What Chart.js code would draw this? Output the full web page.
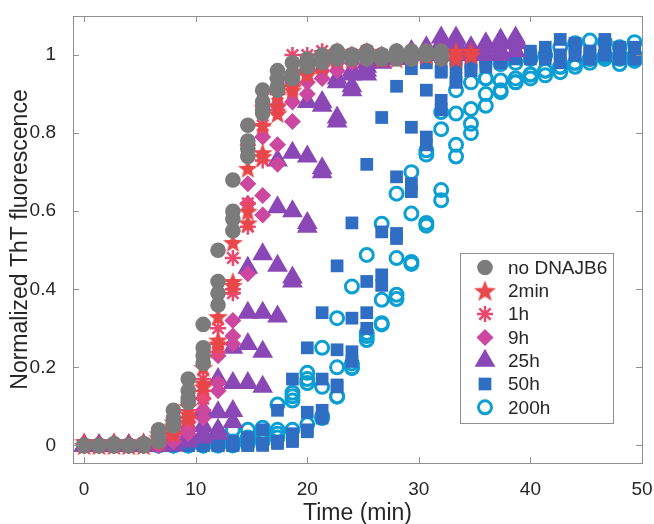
<!DOCTYPE html>
<html>
<head>
<meta charset="utf-8">
<script src="https://cdn.jsdelivr.net/npm/chart.js@4.4.0/dist/chart.umd.min.js"></script>
<style>
  html, body { margin: 0; padding: 0; background: #fff; }
  #wrap { width: 654px; height: 524px; }
</style>
</head>
<body>
<div id="wrap"><canvas id="thtChart" width="654" height="524"></canvas></div>
<script>
// sample times (min), one reading every 80 s
const times = [0, 1.33, 2.67, 4, 5.33, 6.67, 8, 9.33, 10.67, 12, 13.33, 14.67, 16, 17.33, 18.67,
  20, 21.33, 22.67, 24, 25.33, 26.67, 28, 29.33, 30.67, 32, 33.33, 34.67, 36, 37.33, 38.67,
  40, 41.33, 42.67, 44, 45.33, 46.67, 48, 49.33];

const xTicks = [0, 10, 20, 30, 40, 50];
const yTicks = [0, 0.2, 0.4, 0.6, 0.8, 1];

// replicates per condition, values aligned with times
const noDnajb6 = [
  [0, 0, 0.005, 0, 0.005, 0.04, 0.09, 0.17, 0.31, 0.50, 0.68, 0.82, 0.91, 0.96, 0.98, 0.99, 1.0, 1.01, 1.0, 1.01, 1.0, 1.01, 1.0, 1.0, 1.01],
  [0, 0, 0, 0, 0, 0.03, 0.07, 0.14, 0.25, 0.42, 0.60, 0.78, 0.88, 0.94, 0.95, 0.98, 0.99, 1.0, 1.0, 1.0, 0.99, 1.0, 1.01, 1.0, 1.0],
  [0, 0, 0, 0, 0, 0.02, 0.06, 0.12, 0.23, 0.39, 0.58, 0.76, 0.86, 0.92, 0.95, 0.97, 0.99, 1.0, 0.99, 1.0, 1.0, 0.99, 1.0, 1.01, 0.99],
  [0, 0, 0, 0, 0, 0.01, 0.05, 0.11, 0.21, 0.36, 0.55, 0.74, 0.85, 0.91, 0.94, 0.97, 0.98, 0.99, 1.0, 0.99, 1.0, 1.0, 0.99, 1.0, 1.0]
];
const min2 = [
  [0.01, 0, 0.01, 0, 0.01, 0.03, 0.06, 0.10, 0.20, 0.33, 0.52, 0.71, 0.82, 0.90, 0.95, 0.98, 1.0, 1.01, 1.0, 1.01, 1.0, 1.0, 1.01, 1.0, 1.0, 1.01, 1.0],
  [0, 0.005, 0, 0.005, 0, 0.02, 0.05, 0.08, 0.16, 0.27, 0.42, 0.60, 0.75, 0.87, 0.92, 0.96, 0.98, 0.99, 1.0, 1.0, 0.99, 1.0, 1.0, 1.0, 1.01, 1.0, 1.0],
  [0, 0, 0, 0, 0, 0.01, 0.03, 0.07, 0.15, 0.26, 0.41, 0.57, 0.74, 0.85, 0.91, 0.95, 0.97, 0.99, 0.99, 1.0, 1.0, 0.99, 1.0, 1.0, 1.0, 0.99, 1.01]
];
const h1 = [
  [0, 0, 0, 0, 0.005, 0.02, 0.05, 0.09, 0.17, 0.30, 0.48, 0.77, 0.87, 0.94, 1.0, 1.0, 1.01, 1.0, 1.0, 1.01, 1.0, 1.0, 1.0, 1.01, 1.0],
  [0, 0, 0, 0, 0, 0.01, 0.04, 0.07, 0.14, 0.26, 0.40, 0.62, 0.82, 0.90, 0.95, 0.98, 0.99, 1.0, 1.0, 1.0, 0.99, 1.0, 1.0, 1.0, 1.0],
  [0, 0, 0, 0, 0, 0.01, 0.03, 0.06, 0.12, 0.24, 0.39, 0.56, 0.73, 0.86, 0.92, 0.96, 0.98, 0.99, 1.0, 0.99, 1.0, 1.0, 0.99, 1.0, 1.0]
];
const h9 = [
  [0, 0, 0, 0, 0, 0.005, 0.02, 0.06, 0.12, 0.23, 0.32, 0.67, 0.79, 0.87, 0.93, 0.96, 0.98, 0.99, 1.0, 1.0, 1.0, 1.01, 1.0, 1.0, 1.0],
  [0, 0, 0, 0, 0, 0, 0.01, 0.04, 0.09, 0.16, 0.28, 0.62, 0.64, 0.77, 0.88, 0.93, 0.96, 0.98, 0.99, 1.0, 1.0, 1.0, 1.0, 1.0, 1.0],
  [0, 0, 0, 0, 0, 0, 0.01, 0.03, 0.07, 0.14, 0.26, 0.44, 0.59, 0.72, 0.83, 0.90, 0.94, 0.96, 0.98, 0.99, 1.0, 1.0, 1.0, 1.0, 0.99]
];
const h25 = [
  [0, 0, 0, 0, 0, 0.01, 0.02, 0.05, 0.09, 0.17, 0.25, 0.455, 0.49, 0.73, 0.75, 0.88, 0.88, 0.94, 0.96, 0.98, 0.99, 1.0, 1.01, 1.0, 1.045, 1.045, 1.0, 1.03, 1.04, 1.045],
  [0, 0, 0, 0, 0, 0, 0.01, 0.03, 0.05, 0.085, 0.16, 0.34, 0.34, 0.61, 0.60, 0.74, 0.87, 0.93, 0.95, 0.97, 0.99, 1.0, 1.0, 1.02, 1.03, 1.04, 1.02, 1.0, 1.03, 1.01],
  [0, 0, 0, 0, 0, 0, 0.005, 0.02, 0.03, 0.04, 0.088, 0.26, 0.24, 0.46, 0.42, 0.57, 0.70, 0.84, 0.91, 0.95, 0.98, 0.99, 1.0, 1.01, 1.0, 1.02, 1.01, 1.02, 1.0, 1.04],
  [0, 0, 0, 0, 0, 0, 0, 0.01, 0.02, 0.03, 0.06, 0.16, 0.15, 0.33, 0.43, 0.56, 0.71, 0.83, 0.92, 0.96, 0.99, 1.0, 1.01, 1.0, 1.02, 1.03, 1.0, 1.02, 1.01, 1.03]
];
const h50 = [
  [0, 0, 0, 0, 0, 0, 0, 0, 0.005, 0.01, 0.01, 0.02, 0.04, 0.09, 0.17, 0.25, 0.34, 0.46, 0.57, 0.72, 0.84, 0.92, 0.965, 0.98, 0.96, 0.99, 1.0, 1.01, 1.02, 1.03, 1.01, 1.0, 1.04, 1.02, 1.01, 1.04, 1.02, 1.01],
  [0, 0, 0, 0, 0, 0, 0, 0, 0, 0, 0, 0.005, 0.005, 0.01, 0.03, 0.085, 0.17, 0.245, 0.326, 0.42, 0.547, 0.688, 0.815, 0.91, 0.956, 0.97, 0.98, 0.99, 1.0, 1.01, 1.0, 1.02, 1.0, 1.03, 1.0, 1.01, 1.0, 1.02],
  [0, 0, 0, 0, 0, 0, 0, 0, 0, 0, 0, 0, 0.005, 0.01, 0.015, 0.04, 0.09, 0.155, 0.24, 0.34, 0.437, 0.543, 0.67, 0.79, 0.884, 0.94, 0.96, 0.98, 0.99, 1.0, 0.99, 1.0, 0.98, 1.0, 0.99, 1.0, 0.99, 0.99],
  [0, 0, 0, 0, 0, 0, 0, 0, 0, 0, 0, 0, 0, 0.005, 0.01, 0.035, 0.07, 0.15, 0.215, 0.30, 0.41, 0.53, 0.65, 0.77, 0.86, 0.93, 0.96, 0.97, 0.98, 0.99, 1.0, 0.99, 1.0, 1.0, 1.01, 1.0, 1.0, 1.0]
];
const h200 = [
  [0, 0, 0, 0, 0, 0, 0, 0.005, 0.01, 0.02, 0.04, 0.04, 0.045, 0.105, 0.135, 0.186, 0.25, 0.326, 0.407, 0.488, 0.568, 0.645, 0.70, 0.756, 0.854, 0.91, 0.93, 0.94, 0.977, 0.98, 0.99, 1.0, 1.02, 1.03, 1.037, 1.033, 1.02, 1.033],
  [0, 0, 0, 0, 0, 0, 0, 0, 0, 0.005, 0.01, 0.02, 0.03, 0.04, 0.126, 0.17, 0.15, 0.20, 0.198, 0.288, 0.373, 0.48, 0.594, 0.745, 0.81, 0.85, 0.862, 0.90, 0.935, 0.93, 0.94, 0.948, 0.956, 0.97, 0.98, 0.994, 0.977, 0.99],
  [0, 0, 0, 0, 0, 0, 0, 0, 0, 0, 0.005, 0.01, 0.02, 0.03, 0.115, 0.16, 0.075, 0.126, 0.20, 0.28, 0.313, 0.386, 0.47, 0.57, 0.654, 0.77, 0.824, 0.94, 0.905, 0.93, 0.95, 0.96, 0.97, 0.98, 0.99, 1.0, 0.99, 1.0],
  [0, 0, 0, 0, 0, 0, 0, 0, 0, 0, 0, 0.005, 0.01, 0.02, 0.04, 0.054, 0.07, 0.125, 0.21, 0.27, 0.31, 0.375, 0.465, 0.563, 0.628, 0.74, 0.80, 0.87, 0.91, 0.94, 0.95, 0.96, 0.97, 0.98, 0.99, 0.99, 1.0, 0.985]
];

// filled pentagram marker (Chart.js 'star' is an asterisk)
function makeStar(R, color) {
  const c = document.createElement('canvas');
  const s = Math.ceil(R * 2 + 2);
  c.width = c.height = s;
  const g = c.getContext('2d');
  g.beginPath();
  for (let i = 0; i < 10; i++) {
    const r = i % 2 === 0 ? R : R * 0.42;
    const a = -Math.PI / 2 + i * Math.PI / 5;
    g.lineTo(s / 2 + r * Math.cos(a), s / 2 + 1 + r * Math.sin(a));
  }
  g.closePath();
  g.fillStyle = color;
  g.fill();
  return c;
}
const starPlot = makeStar(10.5, '#e8474a');
const starLegend = makeStar(11.5, '#e8474a');

const series = [
  { label: 'no DNAJB6', reps: noDnajb6, style: 'circle', radius: 7.8, fill: '#7b7b7b', stroke: '#7b7b7b', bw: 0 },
  { label: '2min', reps: min2, style: starPlot, legendStyle: starLegend, radius: 10, fill: '#e8474a', stroke: '#e8474a', bw: 0 },
  { label: '1h', reps: h1, style: 'star', radius: 8, fill: 'rgba(0,0,0,0)', stroke: '#ea4870', bw: 2.5 },
  { label: '9h', reps: h9, style: 'rectRot', radius: 8.5, fill: '#cc479f', stroke: '#cc479f', bw: 0 },
  { label: '25h', reps: h25, style: 'triangle', radius: 12, fill: '#8a47b6', stroke: '#8a47b6', bw: 0 },
  { label: '50h', reps: h50, style: 'rect', radius: 9, fill: '#2f6ec3', stroke: '#2f6ec3', bw: 0 },
  { label: '200h', reps: h200, style: 'circle', radius: 6.5, fill: 'rgba(0,0,0,0)', stroke: '#0b9fd3', bw: 3 }
];

const datasets = series.map(s => ({
  label: s.label,
  data: s.reps.flatMap(rep => rep.map((y, k) => ({ x: times[k], y: y }))),
  pointStyle: s.style,
  pointRadius: s.radius,
  pointBackgroundColor: s.fill,
  pointBorderColor: s.stroke,
  pointBorderWidth: s.bw,
  showLine: false
}));

const frameColor = '#8f8f8f';
const textColor = '#262626';
const fontFamily = '"Liberation Sans", Arial, Helvetica, sans-serif';

const framePlugin = {
  id: 'frame',
  afterDraw(chart) {
    const ctx = chart.ctx;
    const a = chart.chartArea;
    const xs = chart.scales.x, ys = chart.scales.y;
    ctx.save();
    ctx.strokeStyle = frameColor;
    ctx.lineWidth = 1;
    ctx.strokeRect(Math.round(a.left) + 0.5, Math.round(a.top) + 0.5,
      Math.round(a.right - a.left), Math.round(a.bottom - a.top));
    ctx.beginPath();
    xTicks.forEach(v => {
      const px = Math.round(xs.getPixelForValue(v)) + 0.5;
      ctx.moveTo(px, a.bottom); ctx.lineTo(px, a.bottom - 6);
      ctx.moveTo(px, a.top); ctx.lineTo(px, a.top + 6);
    });
    yTicks.forEach(v => {
      const py = Math.round(ys.getPixelForValue(v)) + 0.5;
      ctx.moveTo(a.left, py); ctx.lineTo(a.left + 6, py);
      ctx.moveTo(a.right, py); ctx.lineTo(a.right - 6, py);
    });
    ctx.stroke();

    // legend box, inside the axes at lower right
    const box = { x: 460, y: 253, w: 153, h: 170 };
    ctx.fillStyle = '#ffffff';
    ctx.fillRect(box.x, box.y, box.w, box.h);
    ctx.strokeStyle = frameColor;
    ctx.strokeRect(box.x + 0.5, box.y + 0.5, box.w, box.h);
    ctx.font = '19px ' + fontFamily;
    ctx.textBaseline = 'middle';
    ctx.textAlign = 'left';
    series.forEach((s, i) => {
      const cy = 267.5 + i * 23.3;
      const cx = 485;
      const st = s.legendStyle || s.style;
      if (typeof st !== 'string') {
        ctx.drawImage(st, cx - st.width / 2, cy - st.height / 2);
      } else {
        ctx.fillStyle = s.fill;
        ctx.strokeStyle = s.stroke;
        ctx.lineWidth = s.bw;
        Chart.helpers.drawPoint(ctx, { pointStyle: st, radius: s.radius, borderWidth: s.bw, rotation: 0 }, cx, cy);
      }
      ctx.fillStyle = textColor;
      ctx.fillText(s.label, 508, cy + 1);
    });
    ctx.restore();
  }
};

new Chart(document.getElementById('thtChart'), {
  type: 'scatter',
  data: { datasets: datasets },
  options: {
    responsive: false,
    animation: false,
    devicePixelRatio: 1,
    layout: { padding: { top: 16, right: 12, left: 0, bottom: 0 } },
    plugins: {
      legend: { display: false },
      tooltip: { enabled: false }
    },
    scales: {
      x: {
        type: 'linear',
        min: -1,
        max: 50,
        afterBuildTicks: scale => { scale.ticks = xTicks.map(v => ({ value: v })); },
        afterFit: scale => {
          scale.height = 61;
          scale.paddingLeft = 0;
          scale.paddingRight = 0;
        },
        grid: { display: false },
        border: { display: false },
        ticks: {
          color: textColor,
          font: { family: fontFamily, size: 19 },
          padding: 7,
          maxRotation: 0,
          autoSkip: false
        },
        title: {
          display: true,
          text: 'Time (min)',
          color: textColor,
          font: { family: fontFamily, size: 23 },
          padding: { top: 0, bottom: -3 }
        }
      },
      y: {
        min: -0.045,
        max: 1.1,
        afterBuildTicks: scale => { scale.ticks = yTicks.map(v => ({ value: v })); },
        afterFit: scale => {
          scale.width = 73;
          scale.paddingTop = 0;
          scale.paddingBottom = 0;
        },
        grid: { display: false },
        border: { display: false },
        ticks: {
          color: textColor,
          font: { family: fontFamily, size: 19 },
          padding: 9,
          callback: v => String(Number(v.toFixed(1)))
        },
        title: {
          display: true,
          text: 'Normalized ThT fluorescence',
          color: textColor,
          font: { family: fontFamily, size: 23 },
          padding: { top: 7, bottom: 0 }
        }
      }
    }
  },
  plugins: [framePlugin]
});
</script>
</body>
</html>
